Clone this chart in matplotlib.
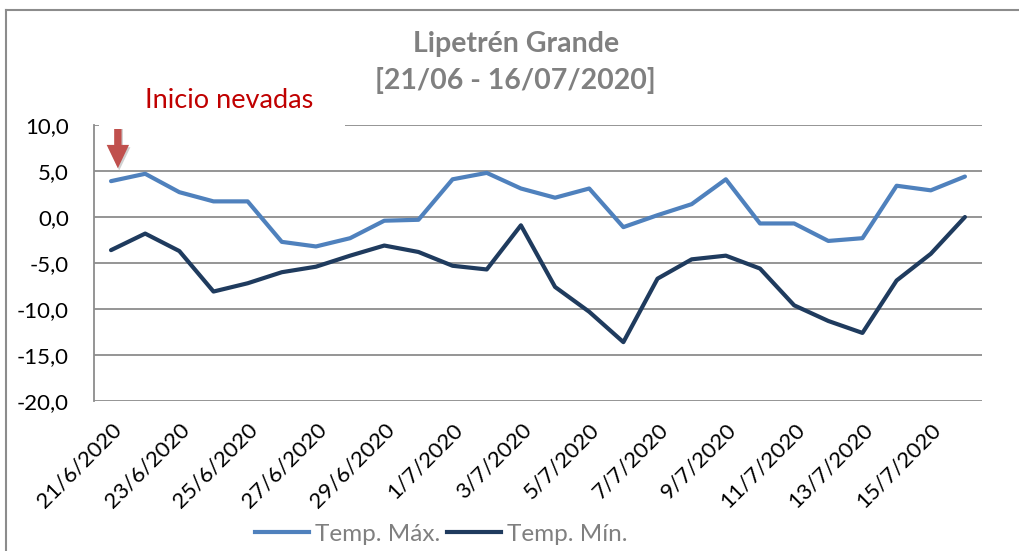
import matplotlib
matplotlib.use("Agg")
import matplotlib.pyplot as plt
from matplotlib.lines import Line2D

plt.rcParams['font.family'] = ['Lato', 'DejaVu Sans']

# Fechas (21/6/2020 - 16/7/2020)
fechas = ['21/6/2020', '22/6/2020', '23/6/2020', '24/6/2020', '25/6/2020', '26/6/2020',
          '27/6/2020', '28/6/2020', '29/6/2020', '30/6/2020', '1/7/2020', '2/7/2020',
          '3/7/2020', '4/7/2020', '5/7/2020', '6/7/2020', '7/7/2020', '8/7/2020',
          '9/7/2020', '10/7/2020', '11/7/2020', '12/7/2020', '13/7/2020', '14/7/2020',
          '15/7/2020', '16/7/2020']

# Temperaturas
temp_max = [3.9, 4.7, 2.7, 1.7, 1.7, -2.7, -3.2, -2.3, -0.4, -0.3, 4.1, 4.8, 3.1,
            2.1, 3.1, -1.1, 0.2, 1.4, 4.1, -0.7, -0.7, -2.6, -2.3, 3.4, 2.9, 4.4]
temp_min = [-3.6, -1.8, -3.7, -8.1, -7.2, -6.0, -5.4, -4.2, -3.1, -3.8, -5.3, -5.7, -0.9,
            -7.6, -10.3, -13.6, -6.7, -4.6, -4.2, -5.6, -9.6, -11.3, -12.6, -6.9, -4.0, 0.0]

x = list(range(len(fechas)))

fig = plt.figure(figsize=(10.19, 5.51), dpi=100)
ax = fig.add_axes([0.0922, 0.2722, 0.8715, 0.5009])

ax.plot(x, temp_max, color='#4F81BD', linewidth=3, label='Temp. Máx.', solid_capstyle='round')
ax.plot(x, temp_min, color='#1F3B5E', linewidth=3, label='Temp. Mín.', solid_capstyle='round')

ax.set_xlim(-0.5, len(fechas) - 0.5)
ax.set_ylim(-20, 10)
ax.set_yticks([10, 5, 0, -5, -10, -15, -20])
ax.set_yticklabels([f'{v:.1f}'.replace('.', ',') for v in [10, 5, 0, -5, -10, -15, -20]])
ax.set_xticks(x[::2])
ax.set_xticklabels(fechas[::2], rotation=45, ha='right', rotation_mode='anchor')
ax.tick_params(axis='both', length=0, labelsize=16, colors='black')
ax.tick_params(axis='y', pad=18)
ax.tick_params(axis='x', pad=13)

ax.grid(axis='y', color='#8C8C8C', linewidth=1.3)
ax.set_axisbelow(True)
for s in ['top', 'right', 'bottom']:
    ax.spines[s].set_visible(False)
ax.spines['left'].set_color('#8C8C8C')
ax.spines['left'].set_linewidth(1.3)

# Titulo
fig.text(0.506, 0.921, 'Lipetrén Grande', ha='center', va='center',
         fontsize=20.5, fontweight='bold', color='#808080')
fig.text(0.506, 0.853, '[21/06 - 16/07/2020]', ha='center', va='center',
         fontsize=20.5, fontweight='bold', color='#808080')

# Cuadro de texto "Inicio nevadas" (tapa la linea superior)
fig.patches.append(plt.Rectangle((0.097, 0.765), 0.242, 0.085, transform=fig.transFigure,
                                 facecolor='white', edgecolor='none', zorder=5))
fig.text(0.225, 0.818, 'Inicio nevadas', ha='center', va='center',
         fontsize=19.5, color='#C00000', zorder=6)

# Flecha
ax.annotate('', xy=(0.2 + 0.04, 5.0 - 0.25), xytext=(0.2 + 0.04, 10.8 - 0.25),
            arrowprops=dict(arrowstyle='simple,head_length=1.2,head_width=1.15,tail_width=0.38',
                            color='#D0D0D0', mutation_scale=14, linewidth=0),
            annotation_clip=False, zorder=6)
ax.annotate('', xy=(0.2, 5.0), xytext=(0.2, 10.8),
            arrowprops=dict(arrowstyle='simple,head_length=1.2,head_width=1.15,tail_width=0.38',
                            color='#C0504D', mutation_scale=14, linewidth=0),
            annotation_clip=False, zorder=7)

# Leyenda
fig.legend(handles=[Line2D([], [], color='#4F81BD', linewidth=3),
                    Line2D([], [], color='#1F3B5E', linewidth=3)],
           labels=['Temp. Máx.', 'Temp. Mín.'],
           loc='center', bbox_to_anchor=(0.433, 0.030), ncol=2, frameon=False,
           fontsize=17.5, labelcolor='#808080', handlelength=2.2, handletextpad=0.25,
           columnspacing=0.3)

# Borde del grafico
fig.add_artist(Line2D([0.006, 0.006], [0, 0.981], transform=fig.transFigure,
                      color='#8C8C8C', linewidth=1.5))
fig.add_artist(Line2D([0.006, 1], [0.981, 0.981], transform=fig.transFigure,
                      color='#8C8C8C', linewidth=1.5))

fig.savefig('out.png', dpi=100)
